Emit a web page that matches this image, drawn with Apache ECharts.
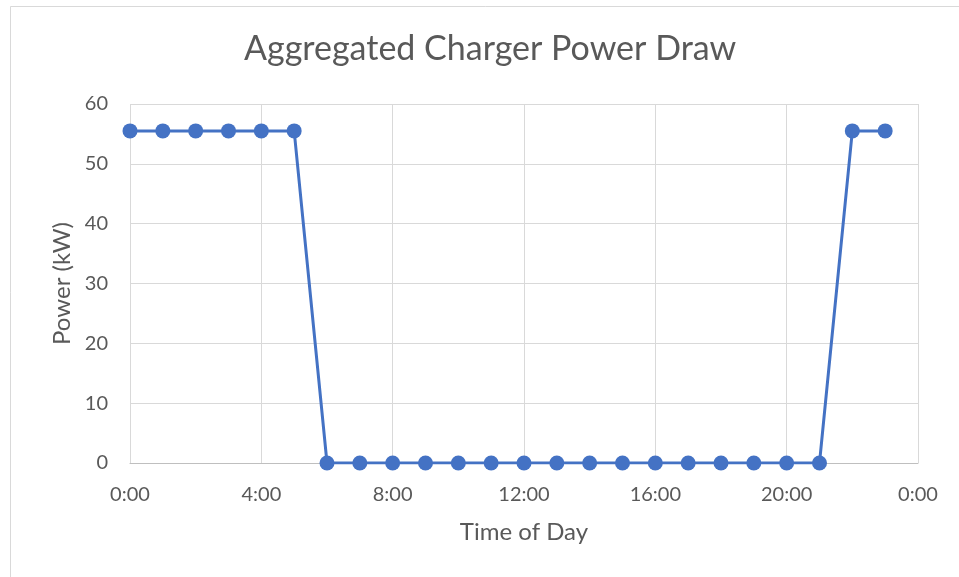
<!DOCTYPE html>
<html>
<head>
<meta charset="utf-8">
<script src="https://cdn.jsdelivr.net/npm/echarts@6/dist/echarts.min.js"></script>
<style>
  html, body { margin: 0; padding: 0; background: #fff; }
  #chart { width: 959px; height: 577px; }
</style>
</head>
<body>
<div id="chart"></div>
<script>
// hour of day for each sample
const hours = [0, 1, 2, 3, 4, 5, 6, 7, 8, 9, 10, 11, 12, 13, 14, 15, 16, 17, 18, 19, 20, 21, 22, 23];
// aggregated power (kW)
const power = [55.5, 55.5, 55.5, 55.5, 55.5, 55.5, 0, 0, 0, 0, 0, 0, 0, 0, 0, 0, 0, 0, 0, 0, 0, 0, 55.5, 55.5];
const yTicks = [0, 10, 20, 30, 40, 50, 60];

const font = "Lato, 'Open Sans', sans-serif";
let chart = echarts.init(document.getElementById("chart"));
chart.setOption({
  animation: false,
  backgroundColor: "#fff",
  title: {
    text: "Aggregated Charger Power Draw",
    left: 239,
    top: 27,
    textStyle: { fontFamily: font, fontSize: 34, fontWeight: "normal", color: "#595959" }
  },
  graphic: [
    {
      type: "rect",
      shape: { x: 10.5, y: 6.5, width: 960, height: 580 },
      style: { fill: "none", stroke: "#d9d9d9", lineWidth: 1 },
      silent: true
    }
  ],
  grid: { left: 130, right: 41, top: 104, bottom: 114 },
  xAxis: {
    type: "value",
    min: 0,
    max: 24,
    interval: 4,
    name: "Time of Day",
    nameLocation: "middle",
    nameGap: 57,
    nameTextStyle: { fontFamily: font, fontSize: 24, color: "#595959" },
    axisLine: { show: true, lineStyle: { color: "#bfbfbf", width: 1 } },
    axisTick: { show: false },
    axisLabel: {
      fontFamily: font, fontSize: 20, color: "#595959", margin: 22,
      formatter: v => (v % 24) + ":00"
    },
    splitLine: { show: true, lineStyle: { color: "#d9d9d9", width: 1 } }
  },
  yAxis: {
    type: "value",
    min: yTicks[0],
    max: yTicks[yTicks.length - 1],
    interval: 10,
    name: "Power (kW)",
    nameLocation: "middle",
    nameGap: 56,
    nameTextStyle: { fontFamily: font, fontSize: 24, color: "#595959" },
    axisLine: { show: false },
    axisTick: { show: false },
    axisLabel: { fontFamily: font, fontSize: 20, color: "#595959", margin: 22 },
    splitLine: { show: true, lineStyle: { color: "#d9d9d9", width: 1 } }
  },
  series: [
    {
      type: "line",
      data: hours.map((h, i) => [h, power[i]]),
      symbol: "circle",
      symbolSize: 15,
      lineStyle: { color: "#4472c4", width: 3 },
      itemStyle: { color: "#4472c4" }
    }
  ]
});
</script>
</body>
</html>
